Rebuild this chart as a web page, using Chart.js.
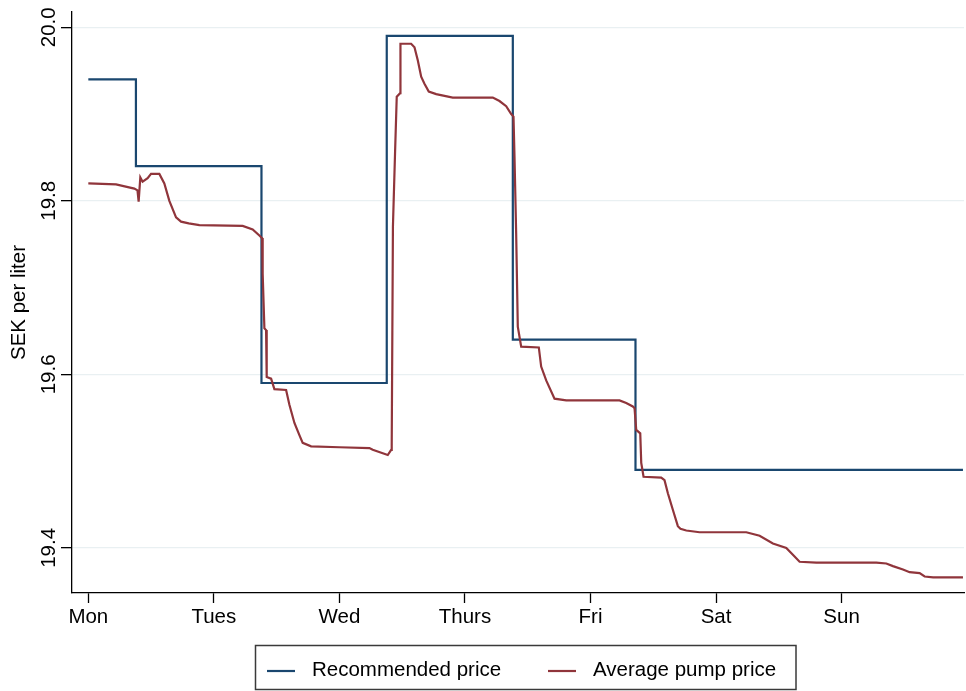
<!DOCTYPE html>
<html>
<head>
<meta charset="utf-8">
<script src="https://cdn.jsdelivr.net/npm/chart.js@4"></script>
<style>
  html, body { margin: 0; padding: 0; background: #fff; }
  #wrap { width: 966px; height: 691px; }
</style>
</head>
<body>
<div id="wrap"><canvas id="priceChart"></canvas></div>
<script>
// Fuel prices over one week, hours from Monday 00:00
const dayLabels = ['Mon', 'Tues', 'Wed', 'Thurs', 'Fri', 'Sat', 'Sun'];
const dayHours = [0, 24, 48, 72, 96, 120, 144];
const yTicks = [19.4, 19.6, 19.8, 20.0];

// Recommended price (step changes)
const recHours = [0, 9.1, 33.1, 57.05, 81.15, 104.6, 167.2];
const recPrice = [19.94, 19.84, 19.59, 19.99, 19.64, 19.49, 19.49];

// Average pump price
const pumpHours = [
  0, 5.3, 8.8, 9.4, 9.62, 9.94, 10.38, 11.34, 11.99, 13.58,
  14.53, 15.49, 16.77, 17.73, 19.2, 21.23, 29.51, 31.42, 32.70, 33.22, 33.33,
  33.66, 33.98, 34.10, 34.94, 35.57, 37.81, 38.44, 39.40, 40.35, 40.98,
  42.59, 48.00, 53.74, 54.37, 57.24, 57.89, 58.00, 58.23, 58.65, 58.96,
  59.61, 59.67, 61.71, 62.35, 62.98, 63.63, 64.26, 65.08, 66.50, 69.67,
  77.32, 78.60, 79.88, 80.84, 81.28, 81.47, 81.79, 82.10, 82.75, 86.12,
  86.57, 87.53, 89.12, 91.36, 101.55, 102.83, 104.09, 104.42, 104.74, 105.51,
  105.70, 106.14, 109.52, 110.15, 110.79, 111.74, 112.70, 113.2, 114.31, 116.85, 125.78,
  128.33, 130.87, 133.43, 134.69, 135.97, 139.17, 150.64, 152.55, 153.82, 155.73,
  157.01, 158.92, 159.88, 161.5, 167.20
];
const pumpPrice = [
  19.820, 19.819, 19.814, 19.812, 19.799, 19.827, 19.822, 19.826, 19.831, 19.831,
  19.820, 19.800, 19.781, 19.776, 19.774, 19.772, 19.771, 19.767, 19.760, 19.757, 19.716,
  19.653, 19.651, 19.597, 19.595, 19.583, 19.582, 19.565, 19.544, 19.530, 19.521,
  19.517, 19.516, 19.515, 19.513, 19.507, 19.513, 19.520, 19.770, 19.858, 19.920,
  19.924, 19.981, 19.981, 19.977, 19.962, 19.943, 19.935, 19.926, 19.923, 19.919,
  19.919, 19.915, 19.909, 19.900, 19.897, 19.851, 19.762, 19.655, 19.632, 19.631,
  19.609, 19.593, 19.572, 19.570, 19.570, 19.567, 19.563, 19.561, 19.536, 19.532,
  19.498, 19.482, 19.481, 19.478, 19.463, 19.444, 19.425, 19.422, 19.420, 19.418, 19.418,
  19.414, 19.405, 19.400, 19.392, 19.384, 19.383, 19.383, 19.382, 19.379, 19.375,
  19.372, 19.371, 19.367, 19.366, 19.366
];

const BLUE = '#1a476f';
const RED = '#90353b';
const FONT = 'Arial, "Liberation Sans", sans-serif';

// Stata-style legend: boxed, centred below the plot
const legendBox = {
  id: 'legendBox',
  afterDraw(chart) {
    const ctx = chart.ctx;
    ctx.save();
    ctx.strokeStyle = '#3a3a3a';
    ctx.lineWidth = 1.5;
    ctx.strokeRect(255.5, 645.5, 540.5, 44);
    ctx.font = '20.5px ' + FONT;
    ctx.fillStyle = '#000';
    ctx.textBaseline = 'alphabetic';
    const items = [
      { x: 267, tx: 312, ds: chart.data.datasets[1] },
      { x: 548, tx: 593, ds: chart.data.datasets[0] }
    ];
    items.forEach(it => {
      ctx.strokeStyle = it.ds.borderColor;
      ctx.lineWidth = 2.2;
      ctx.beginPath();
      ctx.moveTo(it.x, 671);
      ctx.lineTo(it.x + 28, 671);
      ctx.stroke();
      ctx.fillText(it.ds.label, it.tx, 675.5);
    });
    ctx.restore();
  }
};

const ctx = document.getElementById('priceChart');

new Chart(ctx, {
  type: 'line',
  data: {
    datasets: [{
      label: 'Average pump price',
      data: pumpHours.map((h, i) => ({ x: h, y: pumpPrice[i] })),
      borderColor: RED,
      backgroundColor: RED,
      borderWidth: 2.2,
      pointRadius: 0,
      tension: 0,
      order: 0
    }, {
      label: 'Recommended price',
      data: recHours.map((h, i) => ({ x: h, y: recPrice[i] })),
      borderColor: BLUE,
      backgroundColor: BLUE,
      borderWidth: 2.2,
      pointRadius: 0,
      stepped: true,
      order: 1
    }]
  },
  plugins: [legendBox],
  options: {
    responsive: true,
    maintainAspectRatio: false,
    animation: false,
    layout: { padding: { top: 12, right: 2, bottom: 0, left: 0 } },
    plugins: {
      legend: { display: false },
      tooltip: { enabled: false }
    },
    scales: {
      x: {
        type: 'linear',
        min: -3.12,
        max: 167.4,
        afterFit: s => { s.height = 98; },
        afterBuildTicks: s => { s.ticks = dayHours.map(v => ({ value: v })); },
        ticks: {
          color: '#000',
          font: { family: FONT, size: 20.5 },
          padding: 2,
          maxRotation: 0,
          autoSkip: false,
          callback: (v) => dayLabels[dayHours.indexOf(v)]
        },
        grid: {
          drawOnChartArea: false,
          drawTicks: true,
          tickLength: 10,
          tickColor: '#000',
          tickWidth: 1.3
        },
        border: { color: '#000', width: 1.3 }
      },
      y: {
        min: 19.348,
        max: 20.0176,
        afterFit: s => { s.width = 72; },
        afterBuildTicks: s => { s.ticks = yTicks.map(v => ({ value: v })); },
        ticks: {
          color: '#000',
          font: { family: FONT, size: 20.5 },
          minRotation: 90,
          maxRotation: 90,
          crossAlign: 'center',
          padding: -8,
          callback: v => v.toFixed(1)
        },
        title: {
          display: true,
          text: 'SEK per liter',
          color: '#000',
          font: { family: FONT, size: 20.5 },
          padding: { top: 7, bottom: 0 }
        },
        grid: {
          color: '#e9f0f2',
          lineWidth: 1.3,
          drawTicks: true,
          tickLength: 11,
          tickColor: '#000',
          tickWidth: 1.3
        },
        border: { color: '#000', width: 1.3 }
      }
    }
  }
});
</script>
</body>
</html>
